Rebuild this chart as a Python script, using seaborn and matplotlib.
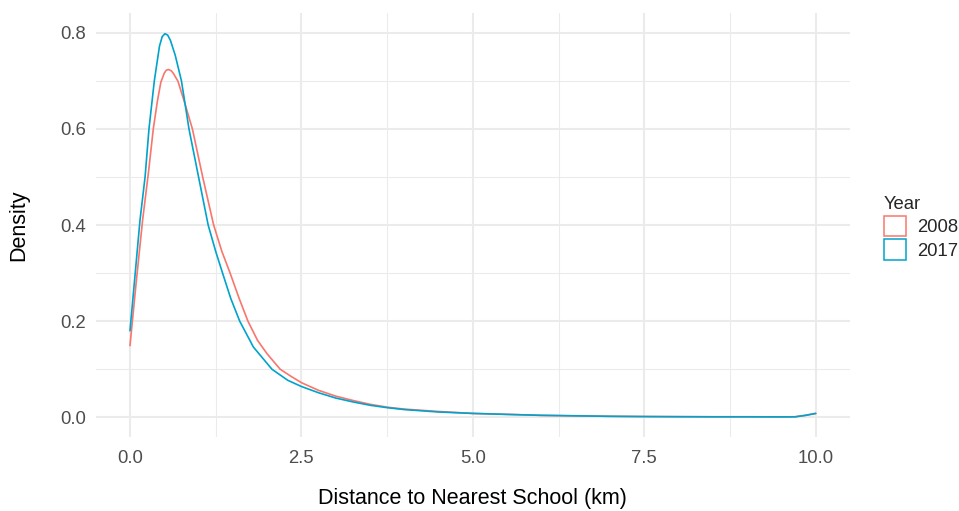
import matplotlib
matplotlib.use("Agg")
import matplotlib.pyplot as plt
from matplotlib.patches import Patch
import seaborn as sns
import pandas as pd

sns.set_theme(style="white")
plt.rcParams['font.family'] = ['Liberation Sans', 'DejaVu Sans']

# ---- data ----
years = ["2008", "2017"]
colors = ["#F8766D", "#00A3CC"]

x_2008 = [0.00, 0.09, 0.184, 0.27, 0.34, 0.40, 0.45, 0.50, 0.53, 0.56, 0.60, 0.63, 0.70,
          0.80, 0.91, 1.06, 1.22, 1.34, 1.46, 1.59, 1.72, 1.86, 2.00, 2.19,
          2.35, 2.50, 2.75, 3.00, 3.25, 3.50, 3.75, 4.00, 4.50, 5.00, 5.50,
          6.00, 6.50, 7.00, 7.50, 8.00, 8.50, 9.00, 9.50, 9.70, 9.85, 10.00]
y_2008 = [0.149, 0.280, 0.410, 0.510, 0.600, 0.658, 0.697, 0.716, 0.722, 0.7235, 0.721, 0.716, 0.699,
          0.653, 0.600, 0.500, 0.400, 0.345, 0.300, 0.248, 0.200, 0.160, 0.132, 0.100,
          0.085, 0.072, 0.056, 0.044, 0.035, 0.027, 0.021, 0.017, 0.012, 0.008, 0.006,
          0.004, 0.003, 0.002, 0.0015, 0.0012, 0.001, 0.001, 0.0008, 0.001, 0.004, 0.008]

x_2017 = [0.00, 0.07, 0.146, 0.22, 0.277, 0.355, 0.43, 0.47, 0.51, 0.55, 0.59, 0.66, 0.75,
          0.80, 0.86, 1.00, 1.14, 1.25, 1.35, 1.47, 1.60, 1.80, 2.07, 2.30,
          2.50, 2.75, 3.00, 3.25, 3.50, 3.75, 4.00, 4.50, 5.00, 5.50,
          6.00, 6.50, 7.00, 7.50, 8.00, 8.50, 9.00, 9.50, 9.70, 9.85, 10.00]
y_2017 = [0.180, 0.290, 0.410, 0.500, 0.600, 0.700, 0.772, 0.792, 0.798, 0.795, 0.784, 0.753, 0.700,
          0.655, 0.600, 0.500, 0.400, 0.345, 0.300, 0.247, 0.200, 0.146, 0.100, 0.077,
          0.064, 0.051, 0.040, 0.032, 0.025, 0.020, 0.016, 0.011, 0.008, 0.006,
          0.004, 0.003, 0.002, 0.0015, 0.0012, 0.001, 0.001, 0.0008, 0.001, 0.004, 0.008]

x_ticks = [0.0, 2.5, 5.0, 7.5, 10.0]
x_minor = [1.25, 3.75, 6.25, 8.75]
y_ticks = [0.0, 0.2, 0.4, 0.6, 0.8]
y_minor = [0.1, 0.3, 0.5, 0.7]

df = pd.concat([
    pd.DataFrame({"dist": x_2008, "dens": y_2008, "Year": years[0]}),
    pd.DataFrame({"dist": x_2017, "dens": y_2017, "Year": years[1]}),
], ignore_index=True)

W, H = 959, 511
fig = plt.figure(figsize=(W / 100, H / 100), dpi=100)
fig.patch.set_facecolor("white")
left, right, top, bottom = 95.7, 850.0, 13.5, 436.5
ax = fig.add_axes([left / W, (H - bottom) / H, (right - left) / W, (bottom - top) / H])
ax.set_facecolor("white")

grid_c = "#EBEBEB"
for v in x_minor:
    ax.axvline(v, color=grid_c, lw=0.75, zorder=0)
for v in y_minor:
    ax.axhline(v, color=grid_c, lw=0.75, zorder=0)
for v in x_ticks:
    ax.axvline(v, color=grid_c, lw=1.45, zorder=0)
for v in y_ticks:
    ax.axhline(v, color=grid_c, lw=1.45, zorder=0)

palette = dict(zip(years, colors))
sns.lineplot(data=df, x="dist", y="dens", hue="Year", palette=palette,
             estimator=None, sort=False, linewidth=1.2, legend=False, ax=ax, zorder=3)

ax.set_xlim(-0.5, 10.5)
ax.set_ylim(-0.04, 0.84)
ax.set_xticks(x_ticks)
ax.set_xticklabels([f"{v:.1f}" for v in x_ticks])
ax.set_yticks(y_ticks)
ax.set_yticklabels([f"{v:.1f}" for v in y_ticks])
ax.tick_params(axis="both", length=0, labelsize=13.3, labelcolor="#4D4D4D")
ax.tick_params(axis="x", pad=9.5)
ax.tick_params(axis="y", pad=7)
for s in ax.spines.values():
    s.set_visible(False)

ax.set_xlabel("Distance to Nearest School (km)", fontsize=15.5, color="black", labelpad=15.5)
ax.set_ylabel("Density", fontsize=15.5, color="black", labelpad=22)

handles = [Patch(facecolor="white", edgecolor=c, linewidth=1.1, label=y)
           for y, c in zip(years, colors)]
leg = fig.legend(handles=handles, title="Year", loc="upper left",
                 bbox_to_anchor=(878 / W, 1 - 190 / H), frameon=False,
                 fontsize=13.3, title_fontsize=13.3, handlelength=1.2,
                 handleheight=1.3, labelspacing=0.18, handletextpad=0.6,
                 alignment="left", borderaxespad=0, borderpad=0.3)

fig.savefig("out.png", dpi=100, facecolor="white")
